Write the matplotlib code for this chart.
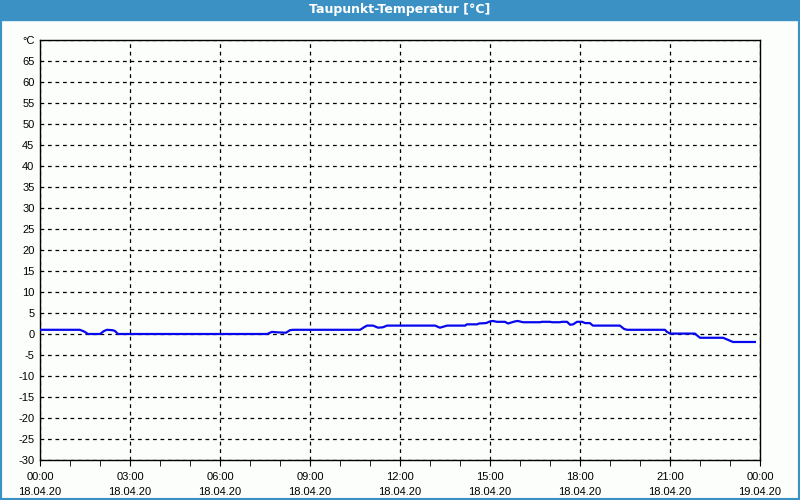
import matplotlib
matplotlib.use("Agg")
import matplotlib.pyplot as plt
from matplotlib.patches import Rectangle

# dew point readings, hours since 18.04.20 00:00
hours = [
    0.0, 1.33, 1.47, 1.6, 2.0, 2.13, 2.23, 2.43, 2.5, 2.6,
    7.57, 7.73, 7.9, 8.2, 8.33, 8.43, 10.67, 10.8, 10.9, 11.1,
    11.27, 11.43, 11.57, 13.17, 13.33, 13.57, 14.17, 14.23, 14.57, 14.63,
    14.87, 15.0, 15.1, 15.23, 15.5, 15.6, 15.83, 15.93, 16.1, 16.67,
    16.73, 17.0, 17.07, 17.33, 17.4, 17.57, 17.67, 17.77, 17.9, 18.07,
    18.17, 18.33, 18.43, 19.33, 19.47, 19.57, 20.83, 20.9, 21.0, 21.83,
    21.93, 22.0, 22.77, 22.87, 23.0, 23.1, 23.83,
]
dew_point = [
    1.0, 1.0, 0.6, 0.0, 0.0, 0.7, 1.0, 0.9, 0.7, 0.0,
    0.0, 0.5, 0.4, 0.3, 0.9, 1.0, 1.0, 1.6, 2.0, 2.0,
    1.5, 1.6, 2.0, 2.0, 1.5, 2.0, 2.0, 2.3, 2.3, 2.5,
    2.6, 3.0, 3.1, 2.9, 2.9, 2.5, 3.0, 3.1, 2.8, 2.8,
    2.9, 2.9, 2.8, 2.8, 2.9, 2.9, 2.2, 2.3, 2.9, 2.9,
    2.6, 2.6, 2.0, 2.0, 1.2, 1.0, 1.0, 0.5, 0.1, 0.1,
    -0.5, -0.9, -0.9, -1.2, -1.6, -1.9, -1.9,
]

x_ticks = [0, 3, 6, 9, 12, 15, 18, 21, 24]
x_labels = [
    "00:00\n18.04.20", "03:00\n18.04.20", "06:00\n18.04.20",
    "09:00\n18.04.20", "12:00\n18.04.20", "15:00\n18.04.20",
    "18:00\n18.04.20", "21:00\n18.04.20", "00:00\n19.04.20",
]
y_ticks = list(range(-30, 71, 5))
y_labels = [str(v) for v in range(-30, 66, 5)] + ["°C"]

TITLE = "Taupunkt-Temperatur [°C]"
BAR = "#3c91c4"
LABEL_FONT = ["Liberation Sans", "DejaVu Sans"]

fig = plt.figure(figsize=(8, 5), dpi=100, facecolor="#fcfefc")
ax = fig.add_axes([0.05, 0.08, 0.90, 0.84])
ax.set_facecolor("#fcfefc")

ax.plot(hours, dew_point, color="#0808ee", linewidth=1.6, zorder=3)

ax.set_xlim(0, 24)
ax.set_ylim(-30, 70)
ax.set_xticks(x_ticks)
ax.set_xticklabels(x_labels, fontsize=8, linespacing=1.6, family=LABEL_FONT)
ax.set_xticks(range(0, 25), minor=True)
ax.set_yticks(y_ticks)
ax.set_yticklabels(y_labels, fontsize=8, family=LABEL_FONT)
ax.tick_params(axis="x", which="both", direction="out", length=4, pad=5, color="black")
ax.tick_params(axis="y", length=0, pad=4)

ax.grid(True, which="major", color="black", linestyle=(0, (3, 3)), linewidth=0.9)
for side in ("left", "bottom", "top", "right"):
    ax.spines[side].set_linewidth(1.0)
    ax.spines[side].set_color("black")

# window frame and title bar
fig.patches.append(Rectangle((0, 0.96), 1, 0.04, transform=fig.transFigure,
                             color=BAR, zorder=0))
fig.patches.append(Rectangle((0, 0), 1, 1, transform=fig.transFigure,
                             fill=False, edgecolor=BAR, linewidth=3, zorder=1))
fig.text(0.5, 0.98, TITLE, ha="center", va="center", color="white",
         fontsize=9, fontweight="bold", family="DejaVu Sans Condensed")

fig.savefig("out.png", dpi=100, facecolor=fig.get_facecolor())
